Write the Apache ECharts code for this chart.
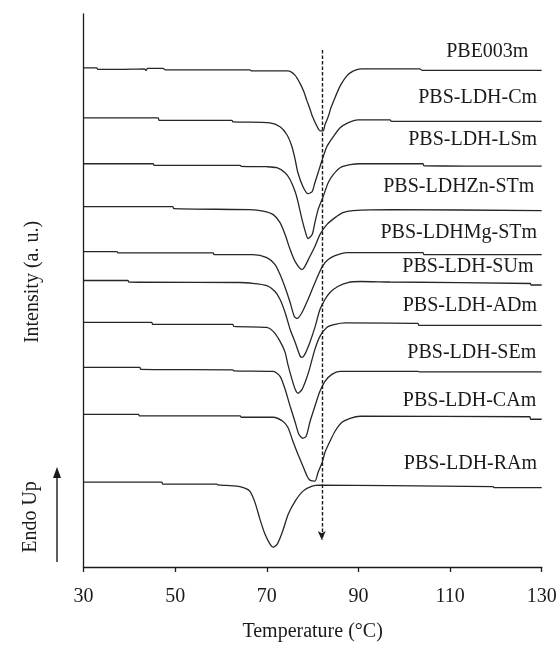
<!DOCTYPE html>
<html>
<head>
<meta charset="utf-8">
<title>DSC melting curves</title>
<script src="https://cdn.jsdelivr.net/npm/echarts@6/dist/echarts.min.js"></script>
<style>
  html, body { margin: 0; padding: 0; background: #ffffff; }
  #chart { width: 560px; height: 647px; }
</style>
</head>
<body>
<div id="chart"></div>
<script>
// Sample names, top curve first
const sampleNames = [
  'PBE003m', 'PBS-LDH-Cm', 'PBS-LDH-LSm', 'PBS-LDHZn-STm', 'PBS-LDHMg-STm',
  'PBS-LDH-SUm', 'PBS-LDH-ADm', 'PBS-LDH-SEm', 'PBS-LDH-CAm', 'PBS-LDH-RAm'
];

// Heat-flow traces: [temperature (°C), stacked intensity (a. u.)]
const curvePBE003m = [
  [30,500],[32.9,500],[33.1,498.5],[38,498.5],[43.3,499],[43.6,497.5],[44.0,499.5],[47.4,499.5],
  [47.8,498],[66.3,498],[66.7,497],[74.6,497],[76.1,493],[77.2,485],[78.1,476],[78.7,468],
  [79.4,459],[80.0,451],[80.9,442],[81.6,437],[82.3,437],[82.7,443],[83.4,451],[84.0,460],
  [84.7,468],[85.6,478],[86.4,485],[87.3,491],[88.2,495],[89.5,498],[90.8,499],[103.4,499],
  [103.9,497.5],[130,497.5]
];
const curveCm = [
  [30,450],[46.3,450],[46.5,447.5],[62.4,447.5],[62.6,446],[70.7,445],[72.9,441],[74.4,433],
  [75.5,421],[76.2,408],[76.8,395],[77.9,381],[79.0,374],[79.9,376],[80.5,385],[81.2,395],
  [82.1,408],[83.1,421],[84.5,431],[86.0,440],[87.7,445],[89.9,448],[96.9,448],[97.2,446.5],
  [130,446.5]
];
const curveLSm = [
  [30,404],[45.2,404],[45.4,402.3],[64.2,402.3],[64.4,401.3],[70.0,401],[72.2,400],[74.0,395],
  [75.1,388],[76.2,376],[76.8,366],[77.7,348],[78.6,333],[79.0,329],[79.9,333],[80.5,345],
  [81.2,358],[82.3,371],[83.4,385],[84.5,393],[86.0,400],[88.2,403],[90.4,404],[104.1,404],
  [104.3,402],[130,401.5]
];
const curveZnST = [
  [30,361],[49.5,361],[49.7,359],[66.3,358],[69.2,356.5],[71.4,353],[72.9,345],[74.0,333],
  [75.1,318],[76.2,306],[77.7,298],[78.3,301],[79.4,311],[80.5,321],[81.6,333],[83.1,343],
  [84.9,350],[86.6,355],[88.8,357],[96.9,358],[130,357]
];
const curveMgST = [
  [30,316],[37.3,316],[37.5,314.7],[58.3,314.7],[58.5,313],[67.0,313],[70.0,310],[71.8,303],
  [72.9,293],[74.0,280],[75.1,265],[76.0,251],[76.6,249],[77.7,255],[78.8,266],[79.9,278],
  [81.0,290],[82.1,301],[83.4,308],[84.9,312],[87.5,315],[104.1,315],[104.3,313],[130,313]
];
const curveSUm = [
  [30,287],[39.7,287],[39.9,285.5],[64.2,285],[66.3,284.5],[70.0,282],[71.8,276],[72.9,268],
  [74.0,255],[75.1,238],[76.2,225],[77.3,211],[77.7,210],[78.3,213],[79.4,225],[80.5,240],
  [81.6,258],[82.7,268],[83.8,275],[85.5,281],[87.7,285],[90.4,286],[96.9,285.5],[127.5,284],
  [127.7,282.5],[130,282.5]
];
const curveADm = [
  [30,245],[44.9,245],[45.1,243],[62.6,243],[62.8,241],[70.0,240],[71.4,236],[72.9,226],
  [74.0,215],[74.6,203],[75.5,188],[76.2,178],[76.8,174],[77.7,178],[78.6,188],[79.3,198],
  [80.5,218],[81.6,231],[83.1,240],[84.9,243],[87.1,244.5],[103,244],[103.2,242],[130,242]
];
const curveSEm = [
  [30,200],[42.3,200],[42.5,198],[62.6,197.5],[62.8,196.5],[71.4,196],[72.9,191],[74.0,178],
  [75.1,161],[76.2,145],[77.0,133],[77.9,129],[78.6,131],[79.4,145],[80.5,161],[81.6,176],
  [82.7,186],[84.2,193],[86.0,196],[103,196],[103.2,195.5],[130,195.5]
];
const curveCAm = [
  [30,153],[42,153],[42.2,151.5],[64.2,151.3],[64.4,150],[71.4,150],[73.5,146],[74.6,140],
  [75.7,126],[76.8,113],[77.9,101],[78.8,91],[79.4,87],[80.5,86],[81.2,95],[82.1,105],
  [82.7,115],[83.8,126],[84.9,136],[86.4,145],[88.2,149],[90.4,151],[127.4,150.5],[127.6,148],
  [130,148]
];
const curveRAm = [
  [30,85],[47.1,85],[47.3,83],[59.1,83],[59.3,82.3],[63.5,81],[65.2,79],[66.3,76],
  [67.4,65],[68.5,48],[69.6,33],[70.7,23],[71.4,20],[72.3,23],[73.4,35],[74.7,53],
  [76.2,66],[77.9,76],[79.9,81],[81.6,82],[96.9,81.5],[119.4,80.5],[119.6,79.5],[130,79.5]
];

const curves = [
  curvePBE003m, curveCm, curveLSm, curveZnST, curveMgST,
  curveSUm, curveADm, curveSEm, curveCAm, curveRAm
];

// Where each sample name sits (right end of text, in data units)
const labelTemps  = [127.1, 129.0, 129.0, 128.4, 129.0, 128.2, 129.0, 128.8, 128.8, 129.0];
const labelLevels = [516, 470, 428, 381, 335, 301, 262, 215, 167, 103];

// Temperature axis ticks and the reference peak temperature (dashed arrow)
const tempTicks = [30, 50, 70, 90, 110, 130];
const peakTemp = 82;
const peakArrowSpan = [518, 27];

const FONT = 'Liberation Serif';
const INK = '#1a1a1a';

const chart = echarts.init(document.getElementById('chart'), null, { renderer: 'canvas' });

const series = curves.map((pts, i) => {
  const s = {
    name: sampleNames[i],
    type: 'line',
    data: pts,
    showSymbol: false,
    symbol: 'none',
    smooth: 0.25,
    silent: true,
    lineStyle: { color: '#262626', width: 1.3 },
    markPoint: {
      silent: true,
      symbol: 'circle',
      symbolSize: 0,
      data: [{
        coord: [labelTemps[i], labelLevels[i]],
        label: {
          show: true,
          formatter: sampleNames[i],
          position: 'left',
          distance: 0,
          color: INK,
          fontFamily: FONT,
          fontSize: 20
        }
      }]
    }
  };
  if (i === 0) {
    s.markLine = {
      silent: true,
      symbol: ['none', 'arrow'],
      symbolSize: [6, 9],
      label: { show: false },
      lineStyle: { color: INK, type: [3.5, 2], width: 1.4 },
      data: [[
        { coord: [peakTemp, peakArrowSpan[0]] },
        { coord: [peakTemp, peakArrowSpan[1]] }
      ]]
    };
  }
  return s;
});

chart.setOption({
  animation: false,
  backgroundColor: '#ffffff',
  grid: { left: 83.5, right: 18.3, top: 14, bottom: 79, containLabel: false },
  xAxis: {
    type: 'value',
    min: tempTicks[0],
    max: tempTicks[tempTicks.length - 1],
    interval: 20,
    name: 'Temperature (°C)',
    nameLocation: 'middle',
    nameGap: 55,
    nameTextStyle: { color: INK, fontFamily: FONT, fontSize: 20 },
    axisLine: { show: true, onZero: false, lineStyle: { color: INK, width: 1.3 } },
    axisTick: { show: true, inside: false, length: 5, lineStyle: { color: INK, width: 1.3 } },
    axisLabel: { color: INK, fontFamily: FONT, fontSize: 20, margin: 20 },
    splitLine: { show: false }
  },
  yAxis: {
    type: 'value',
    min: 0,
    max: 554,
    axisLine: { show: true, onZero: false, lineStyle: { color: INK, width: 1.3 } },
    axisTick: { show: false },
    axisLabel: { show: false },
    splitLine: { show: false }
  },
  graphic: [
    {
      type: 'text',
      x: 33, y: 282,
      rotation: Math.PI / 2,
      style: {
        text: 'Intensity (a. u.)',
        fill: INK, font: '20px "Liberation Serif"',
        textAlign: 'center', textVerticalAlign: 'middle'
      }
    },
    {
      type: 'text',
      x: 31, y: 517,
      rotation: Math.PI / 2,
      style: {
        text: 'Endo Up',
        fill: INK, font: '20px "Liberation Serif"',
        textAlign: 'center', textVerticalAlign: 'middle'
      }
    },
    {
      type: 'line',
      shape: { x1: 57, y1: 562, x2: 57, y2: 476 },
      style: { stroke: INK, lineWidth: 1.4 }
    },
    {
      type: 'polygon',
      shape: { points: [[57, 467], [53, 478], [61, 478]] },
      style: { fill: INK }
    }
  ],
  series: series
});
</script>
</body>
</html>
